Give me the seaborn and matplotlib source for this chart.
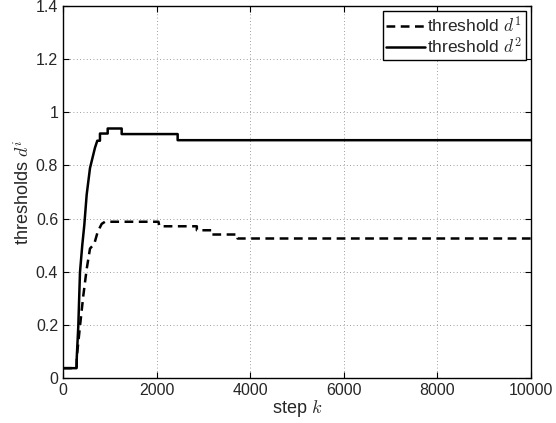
import pandas as pd
import matplotlib
matplotlib.use("Agg")
import matplotlib.pyplot as plt
import seaborn as sns

# threshold trajectories
steps_d1 = [0, 290, 295, 363, 434, 506, 577, 669, 741, 827, 897, 2040, 2060, 2860, 2860, 3180, 3180, 3730, 3730, 10000]
d1 = [0.037, 0.037, 0.08, 0.195, 0.31, 0.41, 0.487, 0.505, 0.55, 0.58, 0.588, 0.588, 0.571, 0.571, 0.556, 0.556, 0.54, 0.54, 0.525, 0.525]

steps_d2 = [0, 290, 295, 327, 363, 412, 455, 506, 577, 684, 733, 790, 790, 955, 955, 1254, 1254, 2450, 2450, 10000]
d2 = [0.037, 0.037, 0.08, 0.195, 0.398, 0.5, 0.575, 0.69, 0.79, 0.867, 0.893, 0.893, 0.92, 0.92, 0.939, 0.939, 0.918, 0.918, 0.895, 0.895]

x_ticks = [0, 2000, 4000, 6000, 8000, 10000]
y_ticks = [0, 0.2, 0.4, 0.6, 0.8, 1.0, 1.2, 1.4]

sns.set_style("ticks")
plt.rcParams["font.family"] = ["Liberation Sans", "DejaVu Sans"]
plt.rcParams["mathtext.fontset"] = "cm"

df1 = pd.DataFrame({"step": steps_d1, "value": d1})
df2 = pd.DataFrame({"step": steps_d2, "value": d2})

fig = plt.figure(figsize=(5.56, 4.23), dpi=100)
ax = fig.add_axes([0.1133, 0.1064, 0.8417, 0.8794])

sns.lineplot(data=df1, x="step", y="value", ax=ax, sort=False, estimator=None,
             color="black", linewidth=1.8, label="threshold $d^1$")
ax.lines[-1].set_dashes((3.5, 2.2))
sns.lineplot(data=df2, x="step", y="value", ax=ax, sort=False, estimator=None,
             color="black", linewidth=1.8, label="threshold $d^2$")

ax.set_xlim(0, 10000)
ax.set_ylim(0, 1.4)
ax.set_xticks(x_ticks)
ax.set_yticks(y_ticks)
ax.set_yticklabels(["%g" % v for v in y_ticks])
ax.tick_params(direction="in", labelsize=11.5, top=True, right=True, length=4, color="black")
ax.grid(True, linestyle=(0, (1, 3)), color="black", linewidth=0.6, alpha=0.5)
for s in ax.spines.values():
    s.set_color("black")
    s.set_linewidth(1.0)

ax.set_xlabel("step $k$", fontsize=13, labelpad=0)
ax.set_ylabel("thresholds $d^i$", fontsize=13, labelpad=2)

leg = ax.legend(loc="upper right", fontsize=12.5, handlelength=2.2, handletextpad=0.15,
                borderaxespad=0.3, fancybox=False, framealpha=1, borderpad=0.2,
                labelspacing=0.05)
leg.get_frame().set_edgecolor("black")
leg.get_frame().set_linewidth(1.0)

fig.savefig("out.png", dpi=100)
